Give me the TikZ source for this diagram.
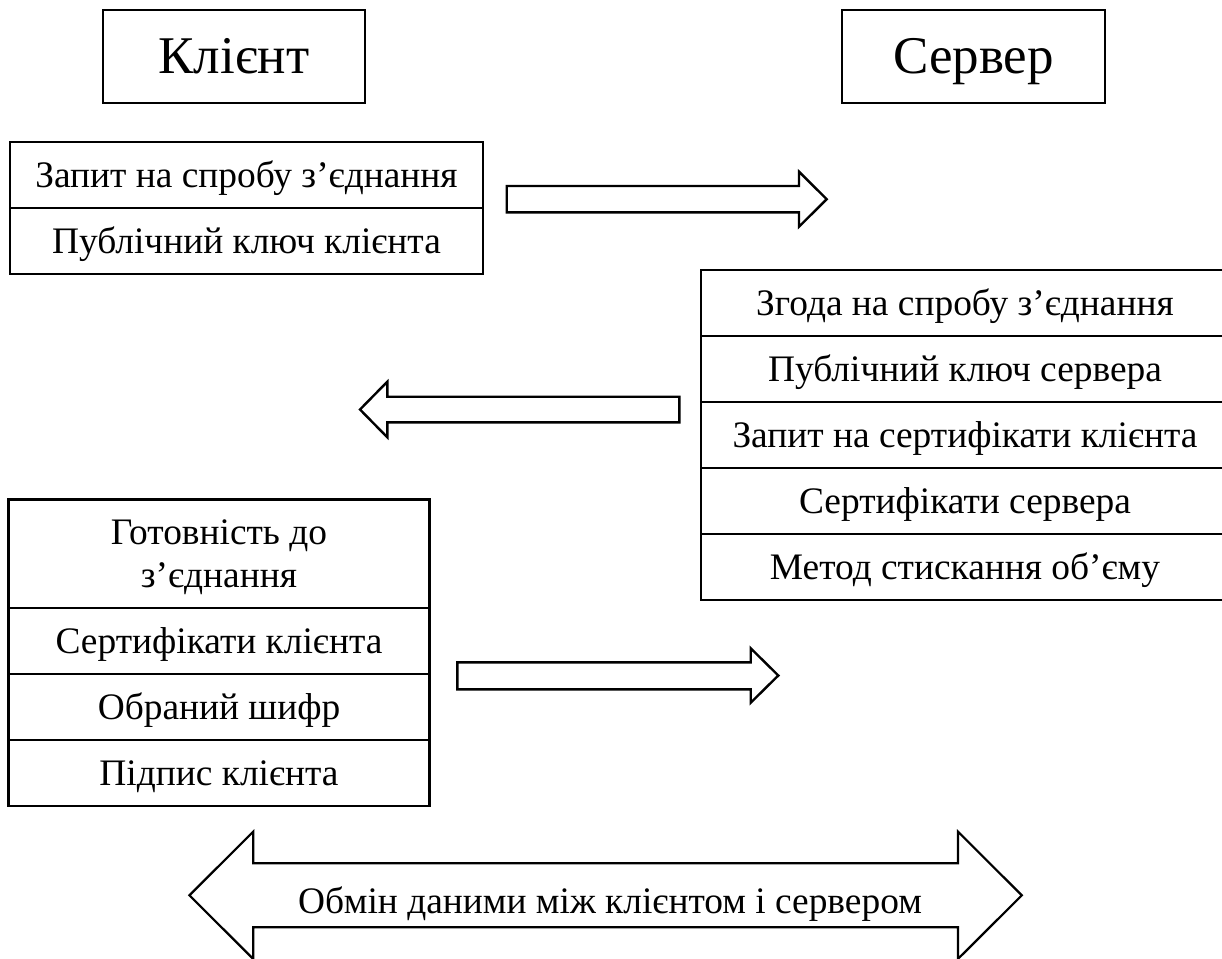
\documentclass[tikz,border=0pt]{standalone}
\usepackage{fontspec}
\setmainfont{Liberation Serif}
\begin{document}
\begin{tikzpicture}[x=1pt, y=-1pt, line join=miter,
  cell/.style={draw, line width=2.5pt, inner sep=0pt, outer sep=0pt},
  txt/.style={font=\fontsize{37.4}{42.5}\selectfont, inner sep=0pt, anchor=base, align=center},
  head/.style={font=\fontsize{53}{60}\selectfont, inner sep=0pt, anchor=base},
  blockarrow/.style={draw, line width=2.4pt, fill=white}]
\useasboundingbox (0,0) rectangle (1222,958);
\clip (0,0) rectangle (1222,958);

% titles
\node[cell, minimum width=262pt, minimum height=93pt] (client) at (234,56.5) {};
\node[head] (client-t) at ([yshift=30pt]client.south) {Клієнт};
\node[cell, minimum width=263pt, minimum height=93pt] (server) at (973.5,56.5) {};
\node[head] (server-t) at ([yshift=30pt]server.south) {Сервер};

% client hello
\node[cell, minimum width=473pt, minimum height=66pt] (c1) at (246.5,175) {};
\node[cell, minimum width=473pt, minimum height=66pt] (c2) at (246.5,241) {};
\node[txt] (c1-t) at ([yshift=21pt]c1.south) {Запит на спробу з’єднання};
\node[txt] (c2-t) at ([yshift=21pt]c2.south) {Публічний ключ клієнта};

% server reply
\node[cell, minimum width=528pt, minimum height=66pt] (s1) at (965,303) {};
\node[cell, minimum width=528pt, minimum height=66pt] (s2) at (965,369) {};
\node[cell, minimum width=528pt, minimum height=66pt] (s3) at (965,435) {};
\node[cell, minimum width=528pt, minimum height=66pt] (s4) at (965,501) {};
\node[cell, minimum width=528pt, minimum height=66pt] (s5) at (965,567) {};
\node[txt] (s1-t) at ([yshift=21pt]s1.south) {Згода на спробу з’єднання};
\node[txt] (s2-t) at ([yshift=21pt]s2.south) {Публічний ключ сервера};
\node[txt] (s3-t) at ([yshift=21pt]s3.south) {Запит на сертифікати клієнта};
\node[txt] (s4-t) at ([yshift=21pt]s4.south) {Сертифікати сервера};
\node[txt] (s5-t) at ([yshift=21pt]s5.south) {Метод стискання об’єму};

% client response
\node[cell, minimum width=421pt, minimum height=108.5pt] (k1) at (219,553.75) {};
\node[cell, minimum width=421pt, minimum height=66pt] (k2) at (219,641) {};
\node[cell, minimum width=421pt, minimum height=66pt] (k3) at (219,707) {};
\node[cell, minimum width=421pt, minimum height=66pt] (k4) at (219,773) {};
% base of a two-line node sits on its last line
\node[txt] (k1-t) at ([yshift=21pt]k1.south) {Готовність до\\з’єднання};
\node[txt] (k2-t) at ([yshift=21pt]k2.south) {Сертифікати клієнта};
\node[txt] (k3-t) at ([yshift=21pt]k3.south) {Обраний шифр};
\node[txt] (k4-t) at ([yshift=21pt]k4.south) {Підпис клієнта};

% block arrows
\draw[blockarrow] (506.7,186) -- (799,186) -- (799,171.7) -- (826.7,199.2)
  -- (799,226.7) -- (799,212.3) -- (506.7,212.3) -- cycle;
\draw[blockarrow] (679.3,396.7) -- (387.3,396.7) -- (387.3,381.7) -- (360,409.5)
  -- (387.3,437.3) -- (387.3,422.3) -- (679.3,422.3) -- cycle;
\draw[blockarrow] (457.3,662.3) -- (750.7,662.3) -- (750.7,648.3) -- (778.3,675.5)
  -- (750.7,702.7) -- (750.7,689.3) -- (457.3,689.3) -- cycle;
\draw[blockarrow, line width=2.2pt] (189.4,895.3) -- (253.2,831.7) -- (253.2,863.3)
  -- (958,863.3) -- (958,831.7) -- (1021.8,895.3) -- (958,958.9) -- (958,927.3)
  -- (253.2,927.3) -- (253.2,958.9) -- cycle;
\node[txt] (xchg) at (610,913) {Обмін даними між клієнтом і сервером};
\end{tikzpicture}
\end{document}
